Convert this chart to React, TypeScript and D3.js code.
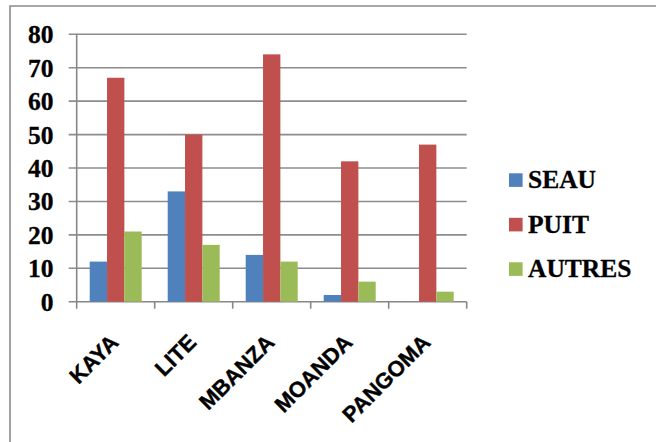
import React from "react";
import * as d3 from "d3";

const categories = ["KAYA", "LITE", "MBANZA", "MOANDA", "PANGOMA"];
const seriesNames = ["SEAU", "PUIT", "AUTRES"];
const seau = [12, 33, 14, 2, 0];
const puit = [67, 50, 74, 42, 47];
const autres = [21, 17, 12, 6, 3];
const yTicks = [0, 10, 20, 30, 40, 50, 60, 70, 80];
const colors = ["#4F81BD", "#C0504D", "#9BBB59"];

const W = 656;
const H = 442;
const plot = { left: 76.7, right: 466.7, top: 34.3, bottom: 301.7 };

export default function App() {
  const seriesValues = [seau, puit, autres];
  const x = d3.scaleBand<string>().domain(categories).range([plot.left, plot.right]).padding(0);
  const xInner = d3
    .scaleBand<string>()
    .domain(seriesNames)
    .range([0, x.bandwidth()])
    .paddingInner(0)
    .paddingOuter(0.75);
  const y = d3.scaleLinear().domain([0, 80]).range([plot.bottom, plot.top]);
  const gridColor = "#8c8c8c";
  const axisColor = "#878787";

  const tickXs = categories.map((c) => x(c) as number).concat([plot.right]);

  return (
    <svg
      width={W}
      height={H}
      style={{ position: "absolute", left: 0, top: 0, display: "block", background: "#fff" }}
    >
      {/* chart frame */}
      <path d={`M10,${H} L10,6 L${W},6`} fill="none" stroke="#8a8a8a" strokeWidth={1.6} />

      {/* horizontal gridlines with outward ticks */}
      {yTicks.map((t) => (
        <line
          key={"g" + t}
          x1={plot.left - 8}
          x2={plot.right}
          y1={y(t)}
          y2={y(t)}
          stroke={t === 0 ? axisColor : gridColor}
          strokeWidth={1.6}
        />
      ))}

      {/* y axis line */}
      <line x1={plot.left} x2={plot.left} y1={plot.top} y2={plot.bottom} stroke={axisColor} strokeWidth={1.6} />

      {/* x axis ticks */}
      {tickXs.map((tx, i) => (
        <line key={"xt" + i} x1={tx} x2={tx} y1={plot.bottom} y2={plot.bottom + 7} stroke={axisColor} strokeWidth={1.6} />
      ))}

      {/* bars */}
      {categories.map((c, ci) =>
        seriesNames.map((s, si) => {
          const v = seriesValues[si][ci];
          const bx = (x(c) as number) + (xInner(s) as number);
          return (
            <rect
              key={c + s}
              x={bx}
              y={y(v)}
              width={xInner.bandwidth()}
              height={y(0) - y(v)}
              fill={colors[si]}
            />
          );
        })
      )}

      {/* y tick labels */}
      {yTicks.map((t) => (
        <text
          key={"yl" + t}
          x={53.5}
          y={y(t) + 9}
          textAnchor="end"
          fontFamily="'Liberation Serif', 'Times New Roman', serif"
          fontWeight="bold"
          fontSize={25.5}
          fill="#000"
          stroke="#000"
          strokeWidth={0.3}
        >
          {t}
        </text>
      ))}

      {/* category labels, rotated */}
      {categories.map((c) => {
        const cx = (x(c) as number) + x.bandwidth() / 2;
        return (
          <text
            key={"xl" + c}
            transform={`translate(${cx + 4},${plot.bottom + 42}) rotate(-45)`}
            textAnchor="end"
            fontFamily="'Liberation Sans', Arial, sans-serif"
            fontWeight="bold"
            fontSize={22}
            fill="#000"
            stroke="#000"
            strokeWidth={0.4}
          >
            {c}
          </text>
        );
      })}

      {/* legend */}
      {seriesNames.map((s, i) => {
        const baseY = 188.3 + i * 44.5;
        return (
          <g key={"lg" + s}>
            <rect x={509} y={baseY - 15} width={13.6} height={13.6} fill={colors[i]} />
            <text
              x={528}
              y={baseY}
              fontFamily="'Liberation Serif', 'Times New Roman', serif"
              fontWeight="bold"
              fontSize={25.5}
              fill="#000"
              stroke="#000"
              strokeWidth={0.3}
            >
              {s}
            </text>
          </g>
        );
      })}
    </svg>
  );
}
